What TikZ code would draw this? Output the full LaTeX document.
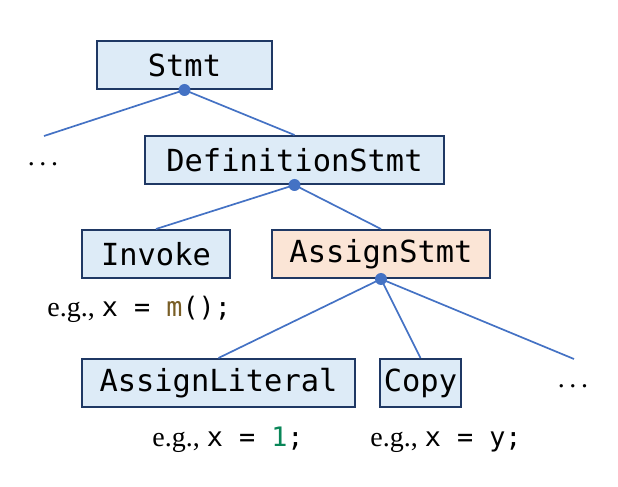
\documentclass[tikz,border=0pt]{standalone}
\usepackage{fontspec}
\setmainfont{Liberation Serif}
\setmonofont{DejaVu Sans Mono}
\usetikzlibrary{positioning}
\definecolor{boxblue}{HTML}{DDEBF7}
\definecolor{boxpeach}{HTML}{FBE5D6}
\definecolor{boxline}{HTML}{1F3864}
\definecolor{edgeblue}{HTML}{4472C4}
\definecolor{codefn}{HTML}{795E26}
\definecolor{codenum}{HTML}{098658}

\begin{document}
\begin{tikzpicture}[x=0.5pt, y=-0.5pt,
			cls/.style={draw=boxline, line width=1pt, fill=boxblue, minimum height=24pt,
				inner sep=0pt, font=\fontsize{15.2}{17}\ttfamily},
			edge/.style={draw=edgeblue, line width=0.85pt},
			dot/.style={circle, fill=edgeblue, inner sep=0pt, minimum size=6pt},
			eg/.style={inner sep=0pt, anchor=base west, font=\fontsize{14}{16}\selectfont},
			more/.style={font=\fontsize{14}{16}\selectfont}]
			\useasboundingbox (0,0) rectangle (618,487);
			\node[cls, minimum width=87.5pt] (s) at (184.5,65) {Stmt};
			\node[cls, minimum width=149.5pt] (d) at (294.5,160) {DefinitionStmt};
			\node[cls, minimum width=74pt] (i) at (156,254) {Invoke};
			\node[cls, minimum width=109pt, fill=boxpeach] (a) at (381,254) {AssignStmt};
			\node[cls, minimum width=136.5pt] (l) at (218.5,383) {AssignLiteral};
			\node[cls, minimum width=40.5pt] (c) at (420.5,383) {Copy};
			\node[more] (m1) at (43,164) {.\,.\,.};
			\node[more] (m2) at (573,386) {.\,.\,.};
			\coordinate (e1) at (44,136);
			\coordinate (e2) at (574,359);
			\node[eg] (xi) at (47,316) {e.g., {\fontsize{13.4}{16}\ttfamily x = \textcolor{codefn}{m}();}};
			\node[eg] (xl) at (152,447) {e.g., {\fontsize{13.4}{16}\ttfamily x = \textcolor{codenum}{1};}};
			\node[eg] (xc) at (370,447) {e.g., {\fontsize{13.4}{16}\ttfamily x = y;}};
			\draw[edge] (s.south) -- (e1);
			\draw[edge] (s.south) -- (d.north);
			\draw[edge] (d.south) -- (i.north);
			\draw[edge] (d.south) -- (a.north);
			\draw[edge] (a.south) -- (l.north);
			\draw[edge] (a.south) -- (c.north);
			\draw[edge] (a.south) -- (e2);
			\node[dot] at (s.south) {};
			\node[dot] at (d.south) {};
			\node[dot] at (a.south) {};
		\end{tikzpicture}
\end{document}
